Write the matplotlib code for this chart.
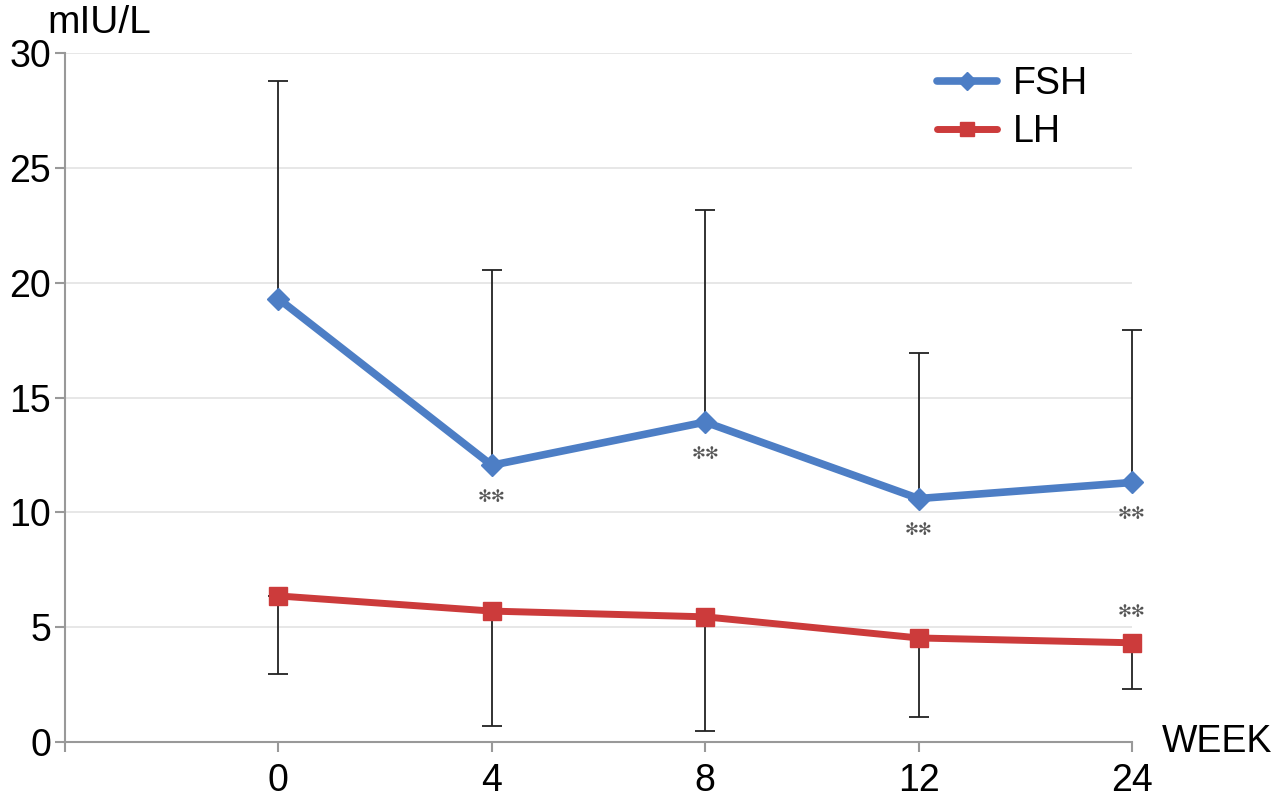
import matplotlib.pyplot as plt
import numpy as np

plt.rcParams['font.family'] = ['Liberation Sans', 'DejaVu Sans']

weeks = ['0', '4', '8', '12', '24']
fsh = [19.3, 12.05, 13.93, 10.6, 11.3]
fsh_upper = [28.8, 20.55, 23.15, 16.93, 17.93]
lh = [6.36, 5.7, 5.45, 4.53, 4.32]
lh_lower = [2.95, 0.7, 0.48, 1.09, 2.31]
fsh_sig = ['', '**', '**', '**', '**']
lh_sig = ['', '', '', '', '**']

blue = '#4D7EC5'
red = '#CC3B3B'
axis_gray = '#999999'

x = np.arange(1, len(weeks) + 1)

fig = plt.figure(figsize=(12.8, 8.02), dpi=100)
ax = fig.add_axes([65 / 1280, 60 / 802, (1132 - 65) / 1280, (742 - 53) / 802])

# error bars: FSH only upward, LH only downward
fsh_err = [np.zeros(len(fsh)), np.array(fsh_upper) - np.array(fsh)]
lh_err = [np.array(lh) - np.array(lh_lower), np.zeros(len(lh))]
for yv, err in [(fsh, fsh_err), (lh, lh_err)]:
    eb = ax.errorbar(x, yv, yerr=err, fmt='none', ecolor='#222222', elinewidth=1.3,
                     capsize=7, capthick=1.3, zorder=2)
    for art in eb.lines[1] + eb.lines[2]:
        art.set_clip_on(False)

ax.plot(x, fsh, color=blue, lw=5.5, marker='D', markersize=11, label='FSH',
        solid_capstyle='round', zorder=3, clip_on=False)
ax.plot(x, lh, color=red, lw=5, marker='s', markersize=13, label='LH',
        solid_capstyle='round', zorder=3, clip_on=False)

star = '\u273b\u273b'
for xi, yi, s in zip(x, fsh, fsh_sig):
    if s:
        ax.annotate(star, (xi, yi), xytext=(0, -23), textcoords='offset points',
                    ha='center', va='center', fontsize=12, color='#555555',
                    family='DejaVu Sans', annotation_clip=False)
for xi, yi, s in zip(x, lh, lh_sig):
    if s:
        ax.annotate(star, (xi, yi), xytext=(0, 22), textcoords='offset points',
                    ha='center', va='center', fontsize=12, color='#555555',
                    family='DejaVu Sans', annotation_clip=False)

ax.set_xlim(0, len(weeks))
ax.set_ylim(0, 30)
ax.set_yticks(np.arange(0, 31, 5))
ax.set_xticks(np.arange(0, len(weeks) + 1))
ax.set_xticklabels([''] + weeks)
ax.grid(axis='y', color='#e3e3e3', lw=1.2)
ax.set_axisbelow(True)

for side in ['top', 'right']:
    ax.spines[side].set_visible(False)
for side in ['left', 'bottom']:
    ax.spines[side].set_color(axis_gray)
    ax.spines[side].set_linewidth(1.5)
ax.tick_params(axis='both', colors=axis_gray, width=1.5, length=7,
               labelsize=27, labelcolor='black')
ax.tick_params(axis='x', pad=8)
ax.tick_params(axis='y', pad=3)

ax.text(0.032, 1.029, 'mIU/L', transform=ax.transAxes, fontsize=28, ha='center', va='baseline')
ax.text(1.028, 0.0, 'WEEK', transform=ax.transAxes, fontsize=27, ha='left', va='center')

leg = ax.legend(loc='upper right', bbox_to_anchor=(0.99, 1.03), frameon=False, fontsize=27,
                handlelength=1.6, handletextpad=0.4, labelspacing=0.32, markerscale=0.8)

plt.savefig('out.png', dpi=100, facecolor='white')
